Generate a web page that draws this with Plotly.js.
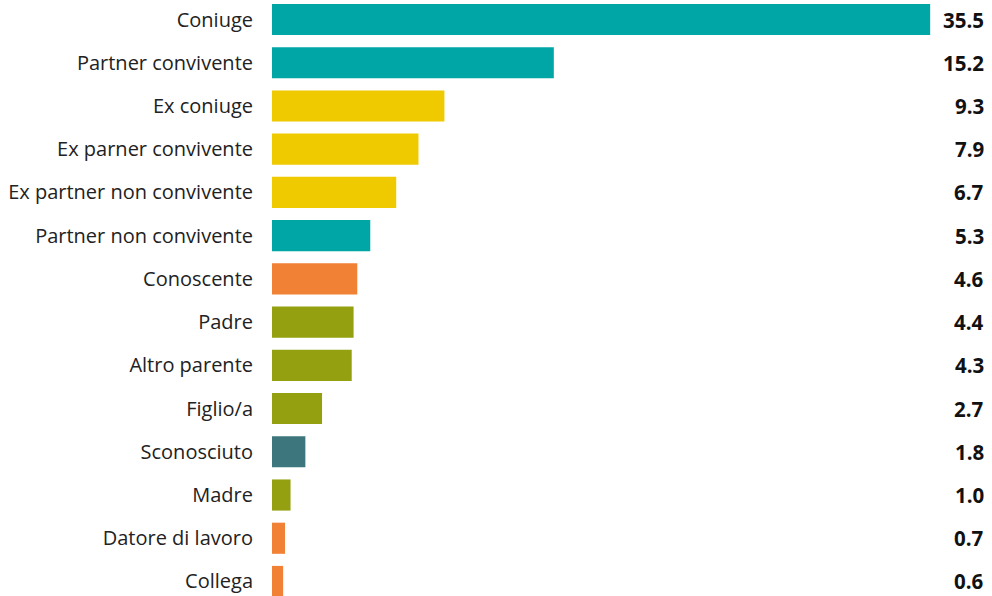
<!DOCTYPE html>
<html>
<head>
<meta charset="utf-8">
<script src="https://cdn.plot.ly/plotly-3.0.1.min.js"></script>
<style>html,body{margin:0;padding:0;background:#fff;}#chart{width:992px;height:596px;}</style>
</head>
<body>
<div id="chart"></div>
<script>
const categories = ["Coniuge","Partner convivente","Ex coniuge","Ex parner convivente","Ex partner non convivente","Partner non convivente","Conoscente","Padre","Altro parente","Figlio/a","Sconosciuto","Madre","Datore di lavoro","Collega"];
const values = [35.5,15.2,9.3,7.9,6.7,5.3,4.6,4.4,4.3,2.7,1.8,1.0,0.7,0.6];
const groups = ["partner","partner","ex","ex","ex","partner","work","family","family","family","stranger","family","work","work"];
const groupColors = {partner:"#00A6A6", ex:"#EFCA00", work:"#F08135", family:"#94A010", stranger:"#3D777D"};

const pxPerUnit = 18.54;
const plotWidth = 720;

const trace = {
  type: "bar",
  orientation: "h",
  y: categories,
  x: values,
  marker: {color: groups.map(g => groupColors[g])},
  hoverinfo: "none"
};

const annotations = categories.map((c, i) => ({
  xref: "paper", yref: "y",
  x: 0.992, y: c,
  xanchor: "right", yanchor: "middle",
  text: values[i].toFixed(1),
  showarrow: false,
  font: {family: "'Open Sans', sans-serif", size: 20.5, color: "#111", weight: 700}
}));

const layout = {
  width: 992, height: 596,
  margin: {l: 272, r: 0, t: 0, b: 0, pad: 0},
  paper_bgcolor: "#fff", plot_bgcolor: "#fff",
  bargap: 0.28,
  showlegend: false,
  xaxis: {range: [0, plotWidth / pxPerUnit], visible: false, fixedrange: true},
  yaxis: {
    type: "category",
    range: [13.336, -0.451],
    showgrid: false, zeroline: false, showline: false,
    ticks: "", ticklabelstandoff: 18,
    tickfont: {family: "'Open Sans', sans-serif", size: 20, color: "#222"}
  },
  annotations: annotations
};

Plotly.newPlot("chart", [trace], layout, {staticPlot: true, displayModeBar: false});
</script>
</body>
</html>
